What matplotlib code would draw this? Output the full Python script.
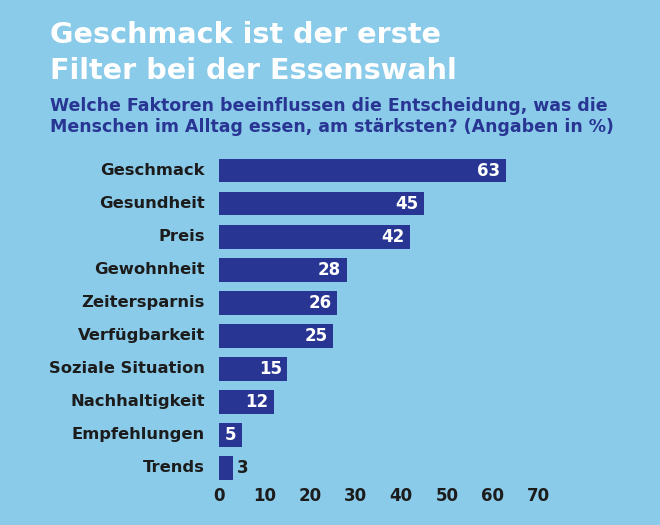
import matplotlib
matplotlib.use("Agg")
import matplotlib.pyplot as plt

categories = ["Geschmack", "Gesundheit", "Preis", "Gewohnheit", "Zeitersparnis",
              "Verfügbarkeit", "Soziale Situation", "Nachhaltigkeit", "Empfehlungen", "Trends"]
values = [63, 45, 42, 28, 26, 25, 15, 12, 5, 3]
xticks = [0, 10, 20, 30, 40, 50, 60, 70]

BG = "#8bcbea"
BAR = "#283593"
DARK = "#1c1c1c"
FONT = "DejaVu Sans"

plt.rcParams['font.family'] = [FONT, 'DejaVu Sans']

fig = plt.figure(figsize=(6.6, 5.25), dpi=100, facecolor=BG)
ax = fig.add_axes([219/660, (525-484.5)/525, 319/660, 330.3/525])
ax.set_facecolor(BG)

ypos = list(range(len(categories)))
ax.barh(ypos, values, height=0.71, color=BAR)
ax.set_xlim(0, 70)
ax.set_ylim(len(categories) - 0.5, -0.5)

for y, v in zip(ypos, values):
    if v >= 5:
        ax.annotate(str(v), (v, y), xytext=(-4, 0), textcoords="offset points",
                    ha="right", va="center", color="white",
                    fontsize=12, fontweight="bold")
    else:
        ax.annotate(str(v), (v, y), xytext=(3, 0), textcoords="offset points",
                    ha="left", va="center", color=DARK,
                    fontsize=12, fontweight="bold")

ax.set_yticks(ypos)
ax.set_yticklabels(categories, fontsize=11.8, fontweight="bold", color=DARK,
                   va="center")
ax.set_xticks(xticks)
ax.set_xticklabels([str(t) for t in xticks], fontsize=12, fontweight="bold", color=DARK)
ax.tick_params(axis="both", length=0)
ax.tick_params(axis="y", pad=10)
ax.tick_params(axis="x", pad=2)
for s in ax.spines.values():
    s.set_visible(False)

fig.text(50/660, 1 - 43/525, "Geschmack ist der erste", color="white",
         fontsize=20.6, fontweight="bold", ha="left", va="baseline")
fig.text(50/660, 1 - 79/525, "Filter bei der Essenswahl", color="white",
         fontsize=20.6, fontweight="bold", ha="left", va="baseline")
fig.text(50/660, 1 - 111/525, "Welche Faktoren beeinflussen die Entscheidung, was die",
         color=BAR, fontsize=12.5, fontweight="bold", ha="left", va="baseline")
fig.text(50/660, 1 - 132/525, "Menschen im Alltag essen, am stärksten? (Angaben in %)",
         color=BAR, fontsize=12.5, fontweight="bold", ha="left", va="baseline")

fig.savefig("out.png", dpi=100, facecolor=BG)
